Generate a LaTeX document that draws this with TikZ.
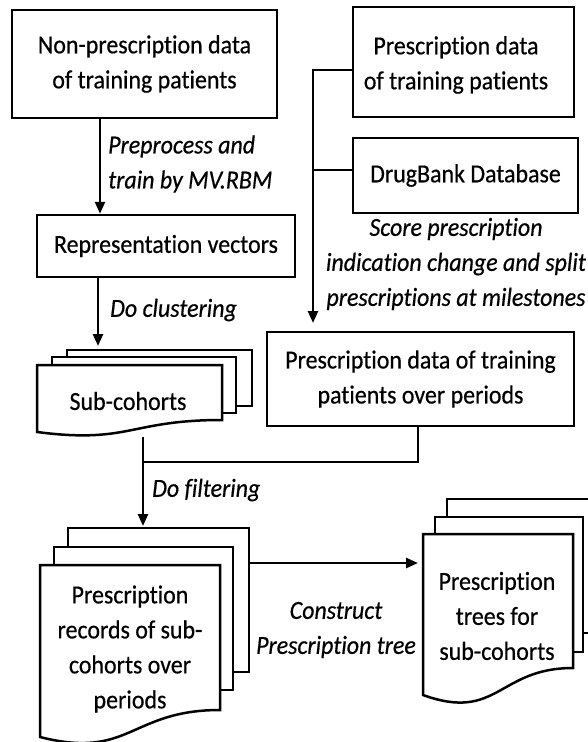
\documentclass[tikz,border=0pt]{standalone}
\usepackage{fontspec}
\setmainfont{Carlito}[FakeStretch=0.92, FakeBold=0.5, Ligatures=NoCommon]
\usetikzlibrary{arrows.meta,calc}

\begin{document}
\begin{tikzpicture}[x=1pt,y=-1pt,
  every node/.style={font=\fontsize{26pt}{35pt}\selectfont, inner sep=0pt},
  box/.style={draw, line width=2.5pt, align=center},
  lab/.style={font=\fontsize{26pt}{35pt}\selectfont\itshape},
  wire/.style={line width=2.5pt},
  arr/.style={wire, -{Triangle[length=12pt,width=10pt]}},
  sheet/.style={draw, line width=2.5pt, fill=white, line join=miter},
]
\useasboundingbox (0,0) rectangle (588,742);
\clip (0,0) rectangle (588,742);

% process boxes
\node[box, minimum width=265pt, minimum height=108pt] (nonp) at (144.5,64) {Non-prescription data\\of training patients};
\node[box, minimum width=258pt, minimum height=62pt] (rep) at (166,246) {Representation vectors};
\node[box, minimum width=221pt, minimum height=110pt] (presc) at (463.5,62) {};
\node[align=center] (presctxt) at (456,65) {Prescription data\\of training patients};
\node[box, minimum width=225pt, minimum height=75pt] (drug) at (465.5,175.5) {DrugBank Database};
\node[box, minimum width=307pt, minimum height=94pt] (period) at (420.5,379) {Prescription data of training\\patients over periods};

% stacked documents: sub-cohorts
\draw[sheet] (67,350) rectangle (252,406);
\draw[sheet] (52,357) rectangle (236,413);
\draw[sheet] (37,365) -- (222,365) -- (222,420) .. controls (129.5,420) and (129.5,444) .. (37,432) -- cycle;
\node (subtxt) at (128,401) {Sub-cohorts};

% stacked documents: prescription records
\draw[sheet] (68,528) rectangle (249,672);
\draw[sheet] (54,547) rectangle (233,690);
\draw[sheet] (40,565) -- (220,565) -- (220,710) .. controls (130,710) and (130,760) .. (40,737) -- cycle;
\node[align=center] (rectxt) at (130,649) {Prescription\\records of sub-\\cohorts over\\periods};

% stacked documents: prescription trees
\draw[sheet] (447,499) rectangle (600,633);
\draw[sheet] (435,517) rectangle (583,652);
\draw[sheet] (423,534) -- (573,534) -- (573,668) .. controls (498,668) and (498,722) .. (423,695) -- cycle;
\node[align=center] (treetxt) at (497,616) {Prescription\\trees for\\sub-cohorts};

% connectors
\coordinate (c1) at (100,0);
\draw[arr] (nonp.south -| c1) -- (rep.north -| c1);
\coordinate (c2) at (98,346);
\draw[arr] (rep.south -| c2) -- (c2);

\coordinate (t1) at (313,70);
\coordinate (t2) at (313,170);
\coordinate (t3) at (313,323);
\draw[arr] (presc.west |- t1) -- (t1) -- (t3);
\draw[wire] (drug.west |- t2) -- (t2);

\coordinate (f0) at (143,437);
\coordinate (f1) at (418,462);
\coordinate (f2) at (143,462);
\coordinate (f3) at (143,526);
\draw[wire] (period.south -| f1) -- (f1) -- (f2);
\draw[arr] (f0) -- (f3);

\coordinate (k0) at (249,563);
\coordinate (k1) at (418,563);
\draw[arr] (k0) -- (k1);

% connector labels
\node[lab, anchor=west, align=left] (prep) at (108,164) {Preprocess and\\train by MV.RBM};
\node[lab, anchor=west] (clust) at (110,310) {Do clustering};
\node[lab, anchor=west] (filt) at (152,490) {Do filtering};
\node[lab, align=center] (score) at (456,264) {Score prescription\\indication change and split\\prescriptions at milestones};
\node[lab, align=center] (constr) at (336,630) {Construct\\Prescription tree};
\end{tikzpicture}
\end{document}
